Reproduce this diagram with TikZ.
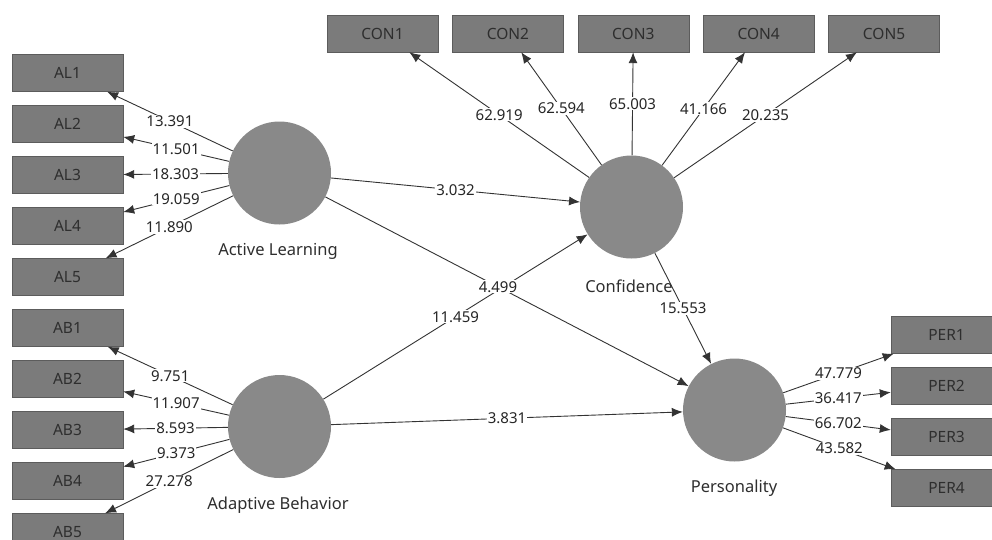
\documentclass[tikz,border=0pt]{standalone}
\usepackage{fontspec}
\setmainfont{Noto Sans}
\usetikzlibrary{arrows.meta, positioning}
\definecolor{mbox}{HTML}{7B7B7B}
\definecolor{mboxline}{HTML}{5C5C5C}
\definecolor{mcirc}{HTML}{898989}
\definecolor{mtext}{HTML}{2E2E2E}
\tikzstyle{indicator} = [rectangle, minimum width = 111pt, minimum height = 37pt, inner sep = 0pt, text = mtext, fill = mbox, draw = mboxline, font = \fontsize{15.5}{15.5}\selectfont]
\tikzstyle{construct} = [circle, minimum size = 103pt, inner sep = 0pt, fill = mcirc]
\tikzstyle{cname} = [text = mtext, font = \fontsize{16.5}{16.5}\selectfont]
\tikzstyle{coef} = [fill = white, inner sep = 1pt, text = black!85, font = \fontsize{15}{15}\selectfont]
\tikzstyle{link} = [line width = 0.9pt, draw = black!80, -{Latex[length=11pt, width=9pt]}]

\begin{document}
\begin{tikzpicture}[x = 1pt, y = -1pt, node distance = 13.6pt and 14pt]
  \useasboundingbox (0,0) rectangle (992,539);
  \clip (0,0) rectangle (992,539);
  % constructs
  \node (AL) [construct] at (279.5,173) {};
  \node (AB) [construct] at (279.5,426.5) {};
  \node (CON) [construct] at (631.5,207) {};
  \node (PER) [construct] at (734.5,410) {};
  \node (ALname) [cname] at (278,251) {Active Learning};
  \node (ABname) [cname] at (278,505) {Adaptive Behavior};
  \node (CONname) [cname] at (629,286) {Confidence};
  \node (PERname) [cname] at (734,488) {Personality};
  % indicators left
  \node (AL1) [indicator] at (67.5,73) {AL1};
  \node (AL2) [indicator, below = of AL1] {AL2};
  \node (AL3) [indicator, below = of AL2] {AL3};
  \node (AL4) [indicator, below = of AL3] {AL4};
  \node (AL5) [indicator, below = of AL4] {AL5};
  \node (AB1) [indicator, below = of AL5] {AB1};
  \node (AB2) [indicator, below = of AB1] {AB2};
  \node (AB3) [indicator, below = of AB2] {AB3};
  \node (AB4) [indicator, below = of AB3] {AB4};
  \node (AB5) [indicator, below = of AB4] {AB5};
  % indicators top
  \node (CON1) [indicator] at (382.5,33.5) {CON1};
  \node (CON2) [indicator, right = of CON1] {CON2};
  \node (CON3) [indicator, right = of CON2] {CON3};
  \node (CON4) [indicator, right = of CON3] {CON4};
  \node (CON5) [indicator, right = of CON4] {CON5};
  % indicators right
  \node (PER1) [indicator] at (946.5,335) {PER1};
  \node (PER2) [indicator, below = of PER1] {PER2};
  \node (PER3) [indicator, below = of PER2] {PER3};
  \node (PER4) [indicator, below = of PER3] {PER4};
  % outer model
  \draw [link] (AL) -- node[coef] {13.391} (AL1);
  \draw [link] (AL) -- node[coef] {11.501} (AL2);
  \draw [link] (AL) -- node[coef] {18.303} (AL3);
  \draw [link] (AL) -- node[coef] {19.059} (AL4);
  \draw [link] (AL) -- node[coef] {11.890} (AL5);
  \draw [link] (AB) -- node[coef] {9.751} (AB1);
  \draw [link] (AB) -- node[coef] {11.907} (AB2);
  \draw [link] (AB) -- node[coef] {8.593} (AB3);
  \draw [link] (AB) -- node[coef] {9.373} (AB4);
  \draw [link] (AB) -- node[coef] {27.278} (AB5);
  \draw [link] (CON) -- node[coef] {62.919} (CON1);
  \draw [link] (CON) -- node[coef] {62.594} (CON2);
  \draw [link] (CON) -- node[coef] {65.003} (CON3);
  \draw [link] (CON) -- node[coef] {41.166} (CON4);
  \draw [link] (CON) -- node[coef] {20.235} (CON5);
  \draw [link] (PER) -- node[coef] {47.779} (PER1);
  \draw [link] (PER) -- node[coef] {36.417} (PER2);
  \draw [link] (PER) -- node[coef] {66.702} (PER3);
  \draw [link] (PER) -- node[coef] {43.582} (PER4);
  % inner model
  \draw [link] (AL) -- node[coef] {3.032} (CON);
  \draw [link] (AB) -- node[coef] {11.459} (CON);
  \draw [link] (AL) -- node[coef, pos = 0.475] {4.499} (PER);
  \draw [link] (AB) -- node[coef] {3.831} (PER);
  \draw [link] (CON) -- node[coef] {15.553} (PER);
\end{tikzpicture}
\end{document}
